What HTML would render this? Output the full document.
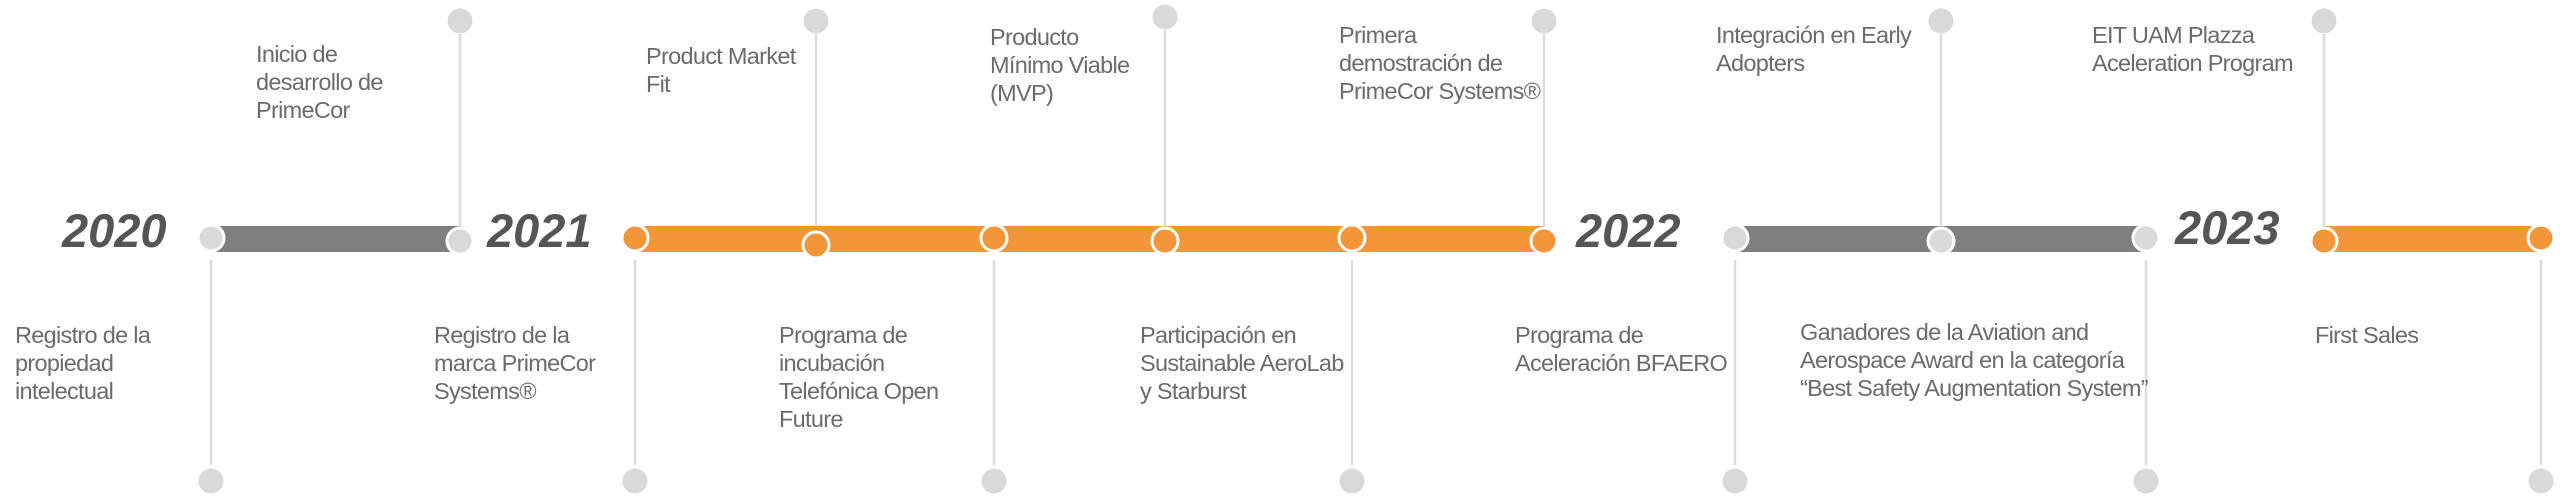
<!DOCTYPE html>
<html><head><meta charset="utf-8"><style>
html,body{margin:0;padding:0;background:#fff;}
svg{display:block;}
.t{font-family:"Liberation Sans",sans-serif;font-size:23.5px;fill:#6b6b6b;letter-spacing:-0.7px;}
.y{font-family:"Liberation Sans",sans-serif;font-size:47px;font-weight:bold;font-style:italic;fill:#555;}
</style></head><body>
<svg width="2560" height="498" viewBox="0 0 2560 498" xmlns="http://www.w3.org/2000/svg">
<g stroke="#dcdcdc" stroke-width="2.5">
<line x1="460" y1="34" x2="460" y2="228"/>
<line x1="816" y1="34" x2="816" y2="228"/>
<line x1="1165" y1="30" x2="1165" y2="228"/>
<line x1="1544" y1="34" x2="1544" y2="228"/>
<line x1="1941" y1="34" x2="1941" y2="228"/>
<line x1="2324" y1="34" x2="2324" y2="228"/>
<line x1="211" y1="260" x2="211" y2="465"/>
<line x1="635" y1="260" x2="635" y2="465"/>
<line x1="994" y1="260" x2="994" y2="465"/>
<line x1="1352" y1="260" x2="1352" y2="465"/>
<line x1="1735" y1="260" x2="1735" y2="465"/>
<line x1="2146" y1="260" x2="2146" y2="465"/>
<line x1="2541" y1="260" x2="2541" y2="465"/>
</g>
<g fill="#d9d9d9">
<circle cx="460" cy="21" r="12.5"/><circle cx="816" cy="21" r="12.5"/><circle cx="1165" cy="17" r="12.5"/>
<circle cx="1544" cy="21" r="12.5"/><circle cx="1941" cy="21" r="12.5"/><circle cx="2324" cy="21" r="12.5"/>
<circle cx="211" cy="481" r="12.5"/><circle cx="635" cy="481" r="12.5"/><circle cx="994" cy="481" r="12.5"/>
<circle cx="1352" cy="481" r="12.5"/><circle cx="1735" cy="481" r="12.5"/><circle cx="2146" cy="481" r="12.5"/>
<circle cx="2541" cy="481" r="12.5"/>
</g>
<rect x="211" y="226" width="249" height="26" fill="#7f7f7f"/>
<rect x="1735" y="226" width="411" height="26" fill="#7f7f7f"/>
<rect x="635" y="226" width="909" height="26" fill="#f39539"/>
<rect x="2324" y="226" width="217" height="26" fill="#f39539"/>
<g stroke="#fff" stroke-width="3">
<circle cx="211" cy="238" r="13" fill="#d9d9d9"/>
<circle cx="460" cy="241" r="13" fill="#d9d9d9"/>
<circle cx="1735" cy="238" r="13" fill="#d9d9d9"/>
<circle cx="1941" cy="241" r="13" fill="#d9d9d9"/>
<circle cx="2146" cy="238" r="13" fill="#d9d9d9"/>
<circle cx="635" cy="238" r="13" fill="#f39539"/>
<circle cx="816" cy="245" r="13" fill="#f39539"/>
<circle cx="994" cy="238" r="13" fill="#f39539"/>
<circle cx="1165" cy="241" r="13" fill="#f39539"/>
<circle cx="1352" cy="238" r="13" fill="#f39539"/>
<circle cx="1544" cy="241" r="13" fill="#f39539"/>
<circle cx="2324" cy="241" r="13" fill="#f39539"/>
<circle cx="2541" cy="238" r="13" fill="#f39539"/>
</g>
<text class="y" x="62" y="247">2020</text>
<text class="y" x="487" y="247">2021</text>
<text class="y" x="1576" y="247">2022</text>
<text class="y" x="2175" y="244">2023</text>
<g class="t">
<text x="256" y="62">Inicio de</text><text x="256" y="90">desarrollo de</text><text x="256" y="118">PrimeCor</text>
<text x="646" y="64">Product Market</text><text x="646" y="92">Fit</text>
<text x="990" y="45">Producto</text><text x="990" y="73">Mínimo Viable</text><text x="990" y="101">(MVP)</text>
<text x="1339" y="43">Primera</text><text x="1339" y="71">demostración de</text><text x="1339" y="99">PrimeCor Systems®</text>
<text x="1716" y="43">Integración en Early</text><text x="1716" y="71">Adopters</text>
<text x="2092" y="43">EIT UAM Plazza</text><text x="2092" y="71">Aceleration Program</text>
<text x="15" y="343">Registro de la</text><text x="15" y="371">propiedad</text><text x="15" y="399">intelectual</text>
<text x="434" y="343">Registro de la</text><text x="434" y="371">marca PrimeCor</text><text x="434" y="399">Systems®</text>
<text x="779" y="343">Programa de</text><text x="779" y="371">incubación</text><text x="779" y="399">Telefónica Open</text><text x="779" y="427">Future</text>
<text x="1140" y="343">Participación en</text><text x="1140" y="371">Sustainable AeroLab</text><text x="1140" y="399">y Starburst</text>
<text x="1515" y="343">Programa de</text><text x="1515" y="371">Aceleración BFAERO</text>
<text x="1800" y="340">Ganadores de la Aviation and</text><text x="1800" y="368">Aerospace Award en la categoría</text><text x="1800" y="396">“Best Safety Augmentation System”</text>
<text x="2315" y="343">First Sales</text>
</g>
</svg>
</body></html>
